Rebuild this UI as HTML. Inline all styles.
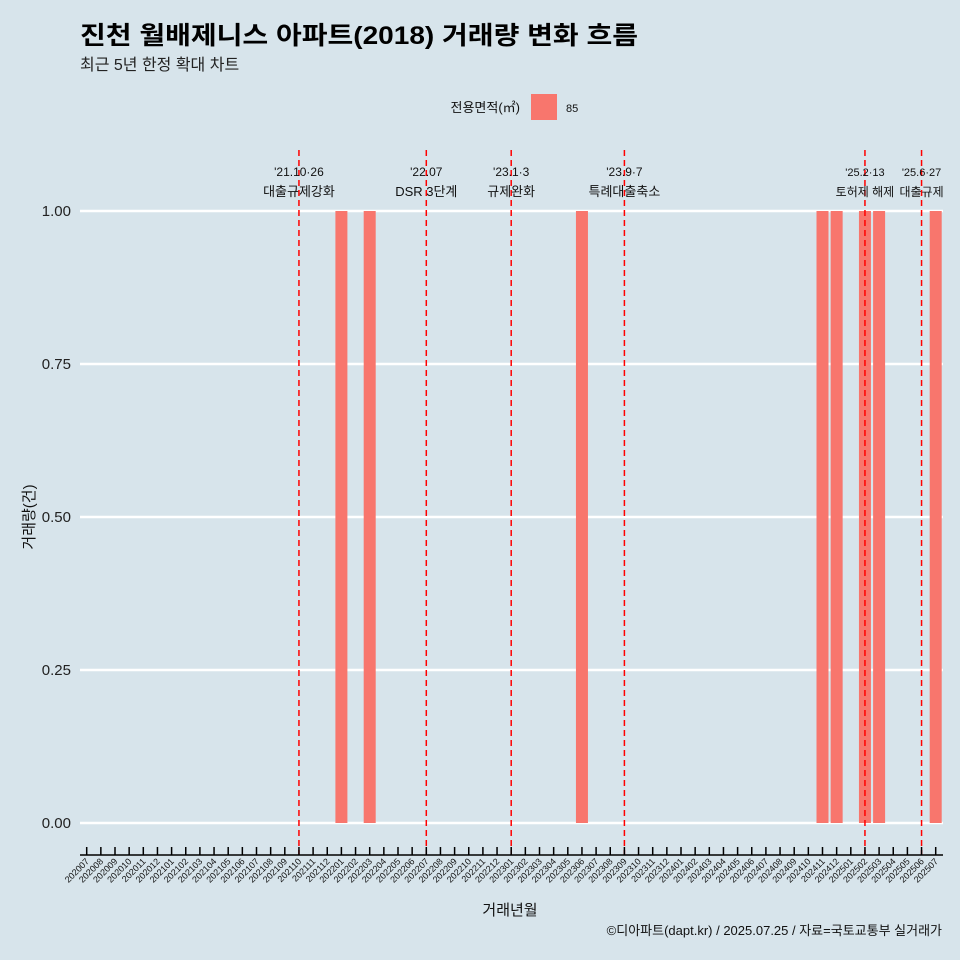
<!DOCTYPE html>
<html><head><meta charset="utf-8"><style>
body{margin:0;background:#d7e4eb;}
svg{display:block;font-family:"Liberation Sans","Noto Sans CJK KR",sans-serif;}
</style></head><body>
<svg id="c" width="960" height="960" viewBox="0 0 960 960">
<rect width="960" height="960" fill="#d7e4eb"/>
<text x="80" y="44" font-size="25" font-weight="bold" fill="#000" textLength="558" lengthAdjust="spacingAndGlyphs">진천 월배제니스 아파트(2018) 거래량 변화 흐름</text>
<text x="80" y="70" font-size="16" fill="#222">최근 5년 한정 확대 차트</text>
<g>
<text x="520" y="112" font-size="13" text-anchor="end" fill="#111">전용면적(㎡)</text>
<rect x="531" y="94" width="26" height="26" fill="#f8766d"/>
<text x="566" y="112" font-size="11" fill="#111">85</text>
</g>
<g id="grid"></g><g id="bars"></g><g id="vlines"></g><g id="axes"></g>
<text x="510" y="915" font-size="15" text-anchor="middle" fill="#111">거래년월</text>
<text transform="translate(34,517) rotate(-90)" font-size="15" text-anchor="middle" fill="#111">거래량(건)</text>
<text x="942" y="935" font-size="13" text-anchor="end" fill="#111">©디아파트(dapt.kr) / 2025.07.25 / 자료=국토교통부 실거래가</text>
</svg>
<script>
const months=[];for(let y=2020;y<=2025;y++)for(let m=1;m<=12;m++){const k=y*100+m;if(k>=202007&&k<=202507)months.push(String(k));}
const barMonths=["202201","202203","202306","202411","202412","202502","202503","202507"];
const barValues=[1,1,1,1,1,1,1,1];
const yTicks=[0,0.25,0.5,0.75,1];
const yTickLabels=["0.00","0.25","0.50","0.75","1.00"];
const eventMonths=["202110","202207","202301","202309","202502","202506"];
const eventLine1=["'21.10·26","'22.07","'23.1·3","'23.9·7","'25.2·13","'25.6·27"];
const eventLine2=["대출규제강화","DSR 3단계","규제완화","특례대출축소","토허제 해제","대출규제"];
const NS="http://www.w3.org/2000/svg";
const x=i=>86.7+i*14.15, y=v=>823-v*612;
function mk(t,a,p){const e=document.createElementNS(NS,t);for(const k in a)e.setAttribute(k,a[k]);p.appendChild(e);return e;}
const G=document.getElementById('grid'),B=document.getElementById('bars'),V=document.getElementById('vlines'),A=document.getElementById('axes');
yTicks.forEach((v,i)=>{
 const l=mk('line',{x1:80,x2:943,y1:y(v),y2:y(v),stroke:'#fff','stroke-width':2.5},G);
 
 
 const t=mk('text',{x:71,y:y(v)+5,'font-size':15,'text-anchor':'end',fill:'#222'},A);t.textContent=yTickLabels[i];
 
 
});
barMonths.forEach((m,i)=>{
 const idx=months.indexOf(m);
 const r=mk('rect',{x:x(idx)-6,y:y(barValues[i]),width:12,height:y(0)-y(barValues[i]),fill:'#f8766d'},B);
 
 
});
eventMonths.forEach((m,i)=>{
 const xx=x(months.indexOf(m));
 const l=mk('line',{x1:xx,x2:xx,y1:150,y2:855,stroke:'#ff0000','stroke-width':1.5,'stroke-dasharray':'6,4'},V);
 
 
 const fs=i>=4?11:12;
 const t1=mk('text',{x:xx,y:176,'font-size':fs,'text-anchor':'middle',fill:'#111'},V);t1.textContent=eventLine1[i];
 
 
 const t2=mk('text',{x:xx,y:196,'font-size':fs+1,'text-anchor':'middle',fill:'#111'},V);t2.textContent=eventLine2[i];
 
 
});
const ax=mk('line',{x1:80,x2:943,y1:855,y2:855,stroke:'#000','stroke-width':1.5},A);


months.forEach((m,i)=>{
 const xx=x(i);
 const tk=mk('line',{x1:xx,x2:xx,y1:847,y2:855,stroke:'#000','stroke-width':1.5},A);
 
 
 const t=mk('text',{x:xx+3,y:862,'font-size':9,'text-anchor':'end',fill:'#111',transform:`rotate(-45 ${xx+3} 862)`},A);t.textContent=m;
 
 
});
</script>
</body></html>
